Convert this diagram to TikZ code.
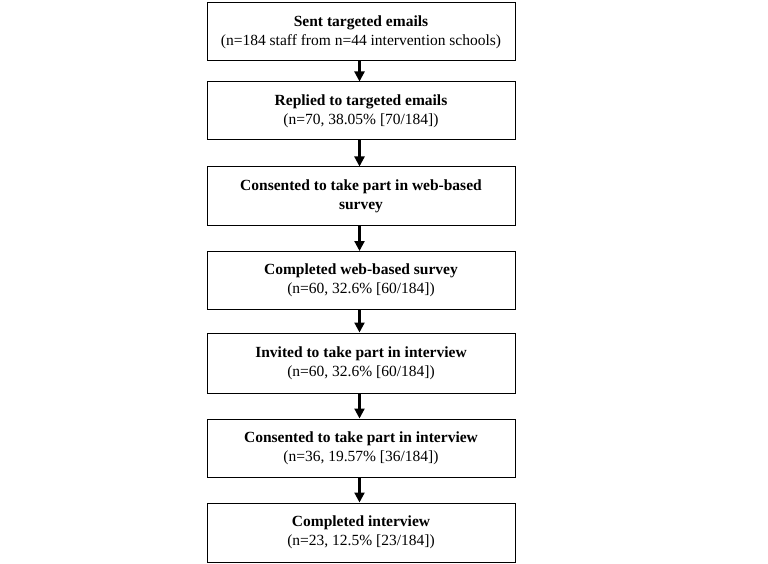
\documentclass[tikz,border=0pt]{standalone}
\usepackage{fontspec}
\setmainfont{Liberation Serif}
\usetikzlibrary{arrows.meta}
\begin{document}
\begin{tikzpicture}[x=1pt,y=-1pt,
  box/.style={draw=black,line width=1pt,minimum width=308pt,minimum height=58pt,
    inner sep=0pt,align=center,font=\fontsize{15.5}{19}\selectfont},
  flow/.style={line width=2.2pt,-{Triangle[length=10pt,width=10pt]}}]
\useasboundingbox (0,0) rectangle (768,564);
\node[box] (b1) at (361,32) {\textbf{Sent targeted emails}\\(n=184 staff from n=44 intervention schools)};
\node[box] (b2) at (361,111) {\textbf{Replied to targeted emails}\\(n=70, 38.05\% [70/184])};
\node[box] (b3) at (361,196) {\textbf{Consented to take part in web-based}\\\textbf{survey}};
\node[box] (b4) at (361,280.5) {\textbf{Completed web-based survey}\\(n=60, 32.6\% [60/184])};
\node[box,minimum height=60pt] (b5) at (361,363) {\textbf{Invited to take part in interview}\\(n=60, 32.6\% [60/184])};
\node[box] (b6) at (361,448) {\textbf{Consented to take part in interview}\\(n=36, 19.57\% [36/184])};
\node[box,minimum height=59pt] (b7) at (361,532.5) {\textbf{Completed interview}\\(n=23, 12.5\% [23/184])};
\foreach \a/\b in {b1/b2,b2/b3,b3/b4,b4/b5,b5/b6,b6/b7}
  \draw[flow] ([xshift=-1.5pt]\a.south) -- ([xshift=-1.5pt]\b.north);
\end{tikzpicture}
\end{document}
